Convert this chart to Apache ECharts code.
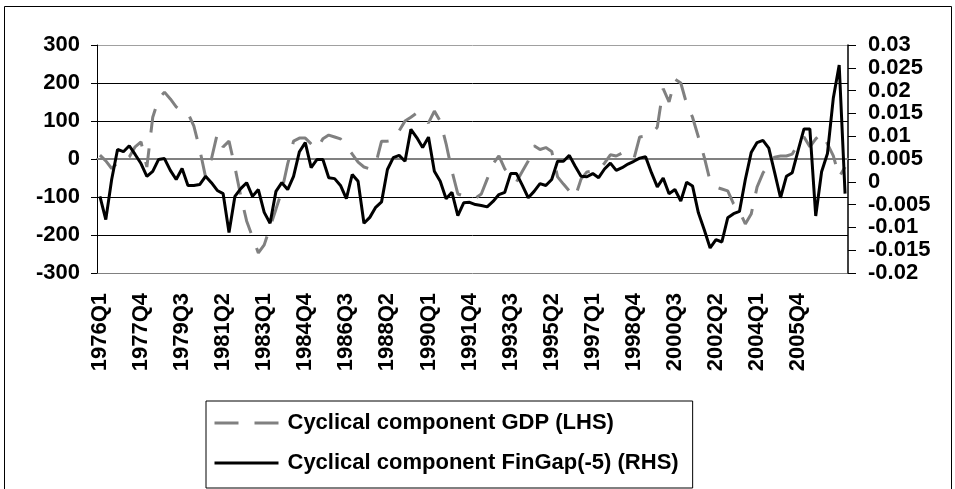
<!DOCTYPE html>
<html>
<head>
<meta charset="utf-8">
<script src="https://cdn.jsdelivr.net/npm/echarts@6/dist/echarts.min.js"></script>
<style>
  html, body { margin: 0; padding: 0; background: #fff; }
  #chart { width: 955px; height: 489px; }
</style>
</head>
<body>
<div id="chart"></div>
<script>
// quarters 1976Q1 .. 2007Q4
var quarters = [];
for (var y = 1976; y <= 2007; y++) {
	for (var q = 1; q <= 4; q++) quarters.push(y + 'Q' + q);
}

// Cyclical component GDP (LHS)
var gdp = [
	10, -5, -25, -10, 5, 5, 32, 45, -21, 110,
	158, 176, 158, 137, 124, 121, 87, 26, -47, 0,
	66, 32, 47, -21, -97, -163, -205, -247, -226, -179,
	-132, -84, -13, 47, 55, 55, 40, 26, 53, 63,
	58, 53, 32, 13, -8, -21, -26, -13, 47, 47,
	50, 74, 100, 110, 121, 113, 95, 126, 100, 40,
	-32, -92, -97, -100, -103, -92, -53, -13, 8, -26,
	-45, -60, -32, -5, 35, 25, 30, 20, -47, -66,
	-84, -100, -53, -34, -32, -29, -11, 11, 8, 16,
	5, 0, 58, 60, 65, 84, 185, 150, 210, 200,
	145, 110, 58, 5, -58, -74, -79, -84, -118, -137,
	-171, -145, -74, -37, -13, 5, 8, 8, 13, 40,
	58, 32, 53, 68, 40, 8, -47, -21
];

// Cyclical component FinGap(-5) (RHS)
var finGap = [
	-0.0032, -0.0083, 0.0005, 0.0071, 0.0066, 0.0079, 0.006, 0.004, 0.0012, 0.0023,
	0.0049, 0.0051, 0.0025, 0.0005, 0.0029, -0.0008, -0.0008, -0.0006, 0.0012, -0.0002,
	-0.0019, -0.0026, -0.0111, -0.0032, -0.0015, -0.0002, -0.0032, -0.0017, -0.0067, -0.0091,
	-0.0021, -0.0002, -0.0017, 0.0012, 0.0066, 0.0086, 0.0031, 0.0049, 0.0049, 0.0009,
	0.0007, -0.0008, -0.0037, 0.0016, 0.0001, -0.0091, -0.0078, -0.0056, -0.0044, 0.0027,
	0.0053, 0.0058, 0.0045, 0.0115, 0.0097, 0.0075, 0.0098, 0.0023, 0.0001, -0.0037,
	-0.0023, -0.0074, -0.0046, -0.0045, -0.005, -0.0052, -0.0055, -0.0043, -0.0028, -0.0023,
	0.0018, 0.0018, -0.0008, -0.0035, -0.0021, -0.0004, -0.0008, 0.0005, 0.0045, 0.0045,
	0.0058, 0.0034, 0.0012, 0.0011, 0.0018, 0.0009, 0.0028, 0.0041, 0.0025, 0.0031,
	0.0039, 0.0045, 0.0052, 0.0055, 0.002, -0.0011, 0.0008, -0.0026, -0.0017, -0.0042,
	-0.0001, -0.0009, -0.0068, -0.0105, -0.0145, -0.0127, -0.0132, -0.0079, -0.007, -0.0065,
	0.0005, 0.0064, 0.0086, 0.0091, 0.0074, 0.002, -0.0035, 0.0012, 0.002, 0.0069,
	0.0116, 0.0116, -0.0075, 0.0022, 0.0062, 0.0184, 0.0256, -0.0026
];

var seriesNames = ['Cyclical component GDP (LHS)', 'Cyclical component FinGap(-5) (RHS)'];
var font = "'Liberation Sans', Arial, sans-serif";
var gdpLine = { color: '#808080', width: 3, type: [24, 16] };
var finLine = { color: '#000', width: 3, type: 'solid' };

var chart = echarts.init(document.getElementById('chart'));
chart.setOption({
	animation: false,
	backgroundColor: '#fff',
	textStyle: { fontFamily: font },
	graphic: [{
		type: 'rect',
		shape: { x: 4.5, y: 6.5, width: 947, height: 500 },
		style: { fill: 'none', stroke: '#000', lineWidth: 1 },
		silent: true
	}],
	grid: {
		left: 97,
		right: 107,
		top: 45,
		bottom: 216,
		outerBoundsMode: 'none'
	},
	legend: {
		orient: 'vertical',
		left: 206,
		top: 401,
		padding: [11, 14, 14, 7],
		itemWidth: 64,
		itemHeight: 20,
		itemGap: 18,
		borderColor: '#000',
		borderWidth: 1,
		textStyle: {
			fontFamily: font,
			fontSize: 22,
			fontWeight: 'bold',
			color: '#000',
			lineHeight: 20,
			padding: [0, 0, 0, 4]
		},
		data: [{
			name: seriesNames[0],
			itemStyle: { opacity: 0 },
			lineStyle: gdpLine
		}, {
			name: seriesNames[1],
			itemStyle: { opacity: 0 },
			lineStyle: finLine
		}]
	},
	xAxis: {
		type: 'category',
		data: quarters,
		boundaryGap: true,
		axisLine: { lineStyle: { color: '#808080', width: 2 } },
		axisTick: { show: false },
		axisLabel: {
			rotate: 90,
			margin: 20,
			fontFamily: font,
			fontSize: 22,
			fontWeight: 'bold',
			color: '#000',
			interval: function (idx) { return idx % 7 === 0 && idx <= 119; }
		},
		splitLine: { show: false }
	},
	yAxis: [{
		type: 'value',
		position: 'left',
		min: -300,
		max: 300,
		interval: 100,
		axisLine: { show: true, lineStyle: { color: '#000', width: 1 } },
		axisTick: { show: true, length: 6, lineStyle: { color: '#000' } },
		axisLabel: {
			margin: 17,
			fontFamily: font,
			fontSize: 22,
			fontWeight: 'bold',
			color: '#000'
		},
		splitLine: {
			show: true,
			lineStyle: {
				color: ['#808080', '#000', '#000', '#000', '#000', '#000', '#a0a0a0'],
				width: 1
			}
		}
	}, {
		type: 'value',
		position: 'right',
		min: -0.02,
		max: 0.03,
		interval: 0.005,
		axisLine: { show: true, lineStyle: { color: '#000', width: 1.5 } },
		axisTick: { show: true, length: 8, lineStyle: { color: '#000' } },
		axisLabel: {
			margin: 20,
			fontFamily: font,
			fontSize: 22,
			fontWeight: 'bold',
			color: '#000'
		},
		splitLine: { show: false }
	}],
	series: [{
		name: seriesNames[0],
		type: 'line',
		yAxisIndex: 0,
		data: gdp,
		symbol: 'none',
		lineStyle: gdpLine,
		itemStyle: { color: '#808080' },
		z: 2
	}, {
		name: seriesNames[1],
		type: 'line',
		yAxisIndex: 1,
		data: finGap,
		symbol: 'none',
		lineStyle: finLine,
		itemStyle: { color: '#000' },
		z: 3
	}]
});
</script>
</body>
</html>
